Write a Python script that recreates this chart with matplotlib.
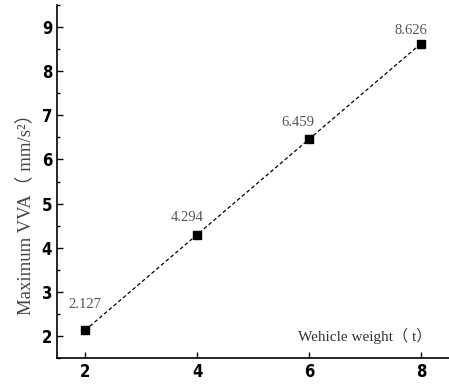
import numpy as np
import matplotlib.pyplot as plt
from matplotlib.ticker import MultipleLocator
from matplotlib import font_manager

plt.rcParams['font.family'] = ['Liberation Serif', 'Noto Sans CJK SC']

weight = [2, 4, 6, 8]
vva = [2.127, 4.294, 6.459, 8.626]
labels = ['2.127', '4.294', '6.459', '8.626']
# hand-placed label shifts in points
label_shift = [(0, 14), (-7, 8), (-8, 7), (-7, 5)]

fig = plt.figure(figsize=(4.49, 3.87), dpi=100)
ax = fig.add_axes([0.127, 0.075, 0.873, 0.912])

ax.plot(weight, vva, color='black', linestyle='--', linewidth=0.9,
        dashes=(3, 2), marker='s', markersize=5.5, markerfacecolor='black')

for x, y, t, d in zip(weight, vva, labels, label_shift):
    ax.annotate(t, (x, y), xytext=d, textcoords='offset points',
                ha='center', va='bottom', fontsize=10.5, color='#555555')

ax.set_xlim(1.5, 8.5)
ax.set_ylim(1.5, 9.5)
ax.set_xticks([2, 4, 6, 8])
ax.set_yticks(range(2, 10))
ax.yaxis.set_minor_locator(MultipleLocator(0.5))
ax.tick_params(direction='in', length=4, width=1, labelsize=12)
ax.tick_params(which='minor', direction='in', length=2, width=1)
tick_font = font_manager.FontProperties(family='DejaVu Sans', weight='bold',
                                        stretch='condensed', size=12)
for lab in ax.get_xticklabels() + ax.get_yticklabels():
    lab.set_fontproperties(tick_font)

ax.spines['top'].set_visible(False)
ax.spines['right'].set_visible(False)
ax.spines['left'].set_linewidth(1.2)
ax.spines['bottom'].set_linewidth(1.2)

ax.set_ylabel('Maximum VVA（ mm/s²）', fontsize=13.5, color='#444444')
ax.yaxis.set_label_coords(-0.058, 0.42)
ax.text(7.0, 2.0, 'Wehicle weight（ t）', ha='center', va='center',
        fontsize=11, color='#333333')

fig.savefig('out.png', dpi=100)
